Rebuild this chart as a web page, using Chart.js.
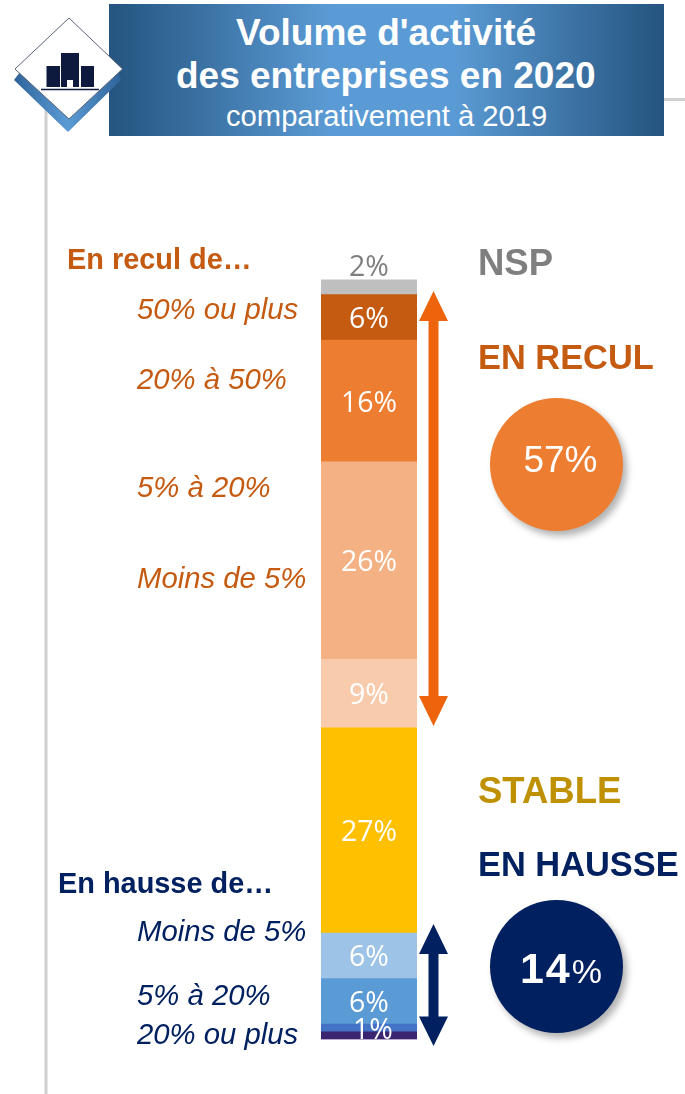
<!DOCTYPE html>
<html lang="fr">
<head>
<meta charset="utf-8">
<script src="https://cdn.jsdelivr.net/npm/chart.js@4"></script>
<style>
html,body{margin:0;padding:0;background:#fff;}
body{position:relative;width:685px;height:1094px;overflow:hidden;font-family:"Liberation Sans",Arial,sans-serif;}
canvas#c{position:absolute;left:0;top:0;}
.t{position:absolute;white-space:nowrap;}
.head{position:absolute;left:109px;top:4px;width:555px;height:132px;background:linear-gradient(90deg,#24547f 0%,#5b9bd5 40%,#5b9bd5 62%,#24547f 100%);color:#fff;}
.head div{position:absolute;white-space:nowrap;}
.it{font-style:italic;font-size:29.3px;}
.cat{font-weight:bold;font-size:34.4px;}
.sub{font-weight:bold;font-size:28.9px;}
.circle{position:absolute;width:133px;height:133px;border-radius:50%;box-shadow:4px 5px 7px rgba(0,0,0,.3);color:#fff;text-align:center;}
svg{position:absolute;left:0;top:0;}
</style>
</head>
<body>
<svg width="685" height="1094">
  <line x1="46" y1="100" x2="46" y2="1094" stroke="#d0d0d0" stroke-width="3"/>
  <line x1="664" y1="99.5" x2="685" y2="99.5" stroke="#d0d0d0" stroke-width="3"/>
</svg>
<div class="head">
  <div style="left:127px;top:8px;font-size:37px;font-weight:bold;line-height:42px;">Volume d'activité</div>
  <div style="left:67px;top:51px;font-size:37px;font-weight:bold;line-height:42px;">des entreprises en 2020</div>
  <div style="left:117px;top:95px;font-size:29.2px;line-height:34px;">comparativement à 2019</div>
</div>
<svg width="685" height="1094">
  <defs><linearGradient id="g" x1="0" x2="1"><stop offset="0" stop-color="#2e6399"/><stop offset=".5" stop-color="#5b9bd5"/><stop offset="1" stop-color="#2e6399"/></linearGradient></defs>
  <polygon points="14,80 20,72 118,72 121,80 68,132" fill="url(#g)"/>
  <polygon points="69,18 122.5,69 69,119 15,69" fill="#fff" stroke="#5a6478" stroke-width="1"/>
  <rect x="46.5" y="66" width="13.5" height="21" fill="#0d1a3e"/>
  <rect x="61" y="53" width="18" height="34" fill="#0d1a3e"/>
  <rect x="81" y="66" width="13" height="21" fill="#0d1a3e"/>
  <rect x="67" y="80" width="6" height="7" fill="#fff"/>
  <line x1="41" y1="89.5" x2="99" y2="89.5" stroke="#0d1a3e" stroke-width="1.5"/>
  <polygon points="433.5,291 448,321 438.5,321 438.5,696 448,696 433.5,726 419,696 428.5,696 428.5,321 419,321" fill="#ee640c"/>
  <polygon points="433.5,924 448,954 438.5,954 438.5,1016.5 448,1016.5 433.5,1046 419,1016.5 428.5,1016.5 428.5,954 419,954" fill="#002060"/>
</svg>
<canvas id="c" width="685" height="1094"></canvas>

<div class="t sub" style="left:67px;top:243px;color:#c55a11;">En recul de…</div>
<div class="t it" style="left:137px;top:292px;color:#c55a11;">50% ou plus</div>
<div class="t it" style="left:137px;top:362px;color:#c55a11;">20% à 50%</div>
<div class="t it" style="left:137px;top:470px;color:#c55a11;">5% à 20%</div>
<div class="t it" style="left:137px;top:561px;color:#c55a11;">Moins de 5%</div>
<div class="t sub" style="left:58px;top:867px;color:#002060;">En hausse de…</div>
<div class="t it" style="left:137px;top:914px;color:#002060;">Moins de 5%</div>
<div class="t it" style="left:137px;top:978px;color:#002060;">5% à 20%</div>
<div class="t it" style="left:137px;top:1017px;color:#002060;">20% ou plus</div>

<div class="t cat" style="left:478px;top:242px;color:#7f7f7f;font-size:36.5px;">NSP</div>
<div class="t cat" style="left:478px;top:338px;color:#c55a11;">EN RECUL</div>
<div class="t cat" style="left:478px;top:770px;color:#bf9000;font-size:36.5px;">STABLE</div>
<div class="t cat" style="left:478px;top:845px;color:#002060;">EN HAUSSE</div>

<div class="circle" style="left:490px;top:398px;background:#ed7d31;font-size:37px;line-height:123px;text-indent:8px;">57%</div>
<div class="circle" style="left:490px;top:900px;background:#002060;line-height:136px;text-indent:9px;"><span style="font-weight:bold;font-size:43px;letter-spacing:2px;">14</span><span style="font-size:34px;">%</span></div>

<script>
const categories = ["Volume d'activité 2020"];
const seriesNames = ["1% mauve","20% ou plus","5% à 20% (hausse)","Moins de 5% (hausse)","Stable","Moins de 5% (recul)","5% à 20% (recul)","20% à 50%","50% ou plus","NSP"];
const seriesValues = [1,1,6,6,27,9,26,16,6,2];
const seriesColors = ["#3b2470","#4472c4","#5b9bd5","#9dc3e6","#ffc000","#f8cbad","#f4b183","#ed7d31","#c55a11","#bfbfbf"];
const seriesLabels = ["","1%","6%","6%","27%","9%","26%","16%","6%","2%"];

const labelPlugin = {
  id:'segmentLabels',
  afterDatasetsDraw(chart){
    const {ctx,chartArea} = chart;
    ctx.save();
    ctx.font = '28.5px "Open Sans","Noto Sans",sans-serif';
    ctx.textAlign = 'center';
    ctx.textBaseline = 'middle';
    chart.data.datasets.forEach((ds,i)=>{
      const text = seriesLabels[i];
      if(!text) return;
      const bar = chart.getDatasetMeta(i).data[0];
      const mid = (bar.y + bar.base)/2;
      ctx.save();
      if(i===9){
        ctx.fillStyle = '#7f7f7f';
        ctx.fillText(text, bar.x, bar.y-12);
      }else{
        ctx.beginPath();
        ctx.rect(chartArea.left,chartArea.top,chartArea.width,chartArea.height);
        ctx.clip();
        ctx.fillStyle = '#fff';
        ctx.fillText(text, i===1 ? bar.x+4 : bar.x, mid+2.5);
      }
      ctx.restore();
    });
    ctx.restore();
  }
};

new Chart(document.getElementById('c'),{
  type:'bar',
  data:{
    labels:categories,
    datasets:seriesValues.map((v,i)=>({
      label:seriesNames[i],
      data:[v],
      backgroundColor:seriesColors[i],
      borderWidth:0,
      barPercentage:1,
      categoryPercentage:1
    }))
  },
  options:{
    responsive:false,
    animation:false,
    layout:{padding:{left:321,right:268,top:279.4,bottom:54.6}},
    plugins:{legend:{display:false},tooltip:{enabled:false}},
    scales:{
      x:{stacked:true,display:false},
      y:{stacked:true,display:false,min:0,max:100}
    }
  },
  plugins:[labelPlugin]
});
</script>
</body>
</html>
